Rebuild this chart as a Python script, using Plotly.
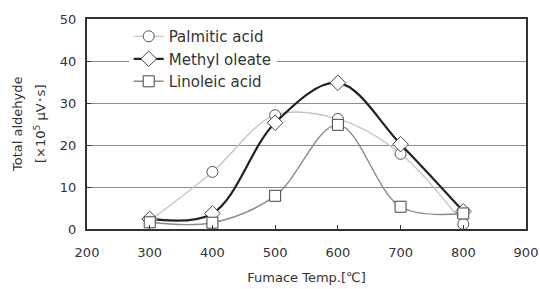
import plotly.graph_objects as go

temps = [300, 400, 500, 600, 700, 800]
palmitic = [2.0, 13.6, 27.1, 26.2, 17.9, 1.2]
methyl_oleate = [2.4, 3.7, 25.3, 34.8, 20.2, 4.2]
linoleic = [1.6, 1.5, 7.9, 24.8, 5.3, 3.7]
y_title_lines = ["Total aldehyde", "[×10<sup>5</sup> μV･s]"]

FONT = "DejaVu Sans"

fig = go.Figure()
fig.add_trace(go.Scatter(
    x=temps, y=palmitic, name="Palmitic acid", mode="lines+markers",
    line=dict(color="#c4c4c4", width=1.3, shape="spline", smoothing=1.0),
    marker=dict(symbol="circle", size=11, color="white", line=dict(color="#555555", width=1))))
fig.add_trace(go.Scatter(
    x=temps, y=methyl_oleate, name="Methyl oleate", mode="lines+markers",
    line=dict(color="#222222", width=2.2, shape="spline", smoothing=1.0),
    marker=dict(symbol="diamond", size=12, color="white", line=dict(color="#444444", width=1))))
fig.add_trace(go.Scatter(
    x=temps, y=linoleic, name="Linoleic acid", mode="lines+markers",
    line=dict(color="#8a8a8a", width=1.4, shape="spline", smoothing=1.0),
    marker=dict(symbol="square", size=11, color="white", line=dict(color="#444444", width=1))))

fig.update_layout(
    width=540, height=289,
    margin=dict(l=87, r=14, t=19, b=60),
    paper_bgcolor="white", plot_bgcolor="white",
    font=dict(family=FONT, color="#333333", size=13),
    showlegend=True,
    legend=dict(x=0.095, y=0.995, xanchor="left", yanchor="top",
                bgcolor="white", borderwidth=0,
                font=dict(family=FONT, size=15, color="#333333"),
                tracegroupgap=0),
    xaxis=dict(range=[200, 900], dtick=100, tick0=200, automargin=False,
               showline=True, linecolor="#333333", linewidth=2, mirror=True,
               showgrid=False, zeroline=False,
               ticks="inside", ticklen=4, tickcolor="#333333",
               ticklabelstandoff=10,
               tickfont=dict(size=13, family=FONT, color="#333333"),
               title=dict(text="Fumace Temp.[℃]", font=dict(size=13, family=FONT, color="#333333"), standoff=14)),
    yaxis=dict(range=[0, 50], dtick=10, automargin=False,
               showline=True, linecolor="#333333", linewidth=2, mirror=True,
               showgrid=True, gridcolor="#8c8c8c", gridwidth=1, zeroline=False,
               ticks="inside", ticklen=4, tickcolor="#333333",
               ticklabelstandoff=6,
               tickfont=dict(size=13, family=FONT, color="#333333")),
)

for i, (txt, shift) in enumerate(zip(y_title_lines, [-70, -47])):
    fig.add_annotation(text=txt, xref="paper", yref="paper", x=0, y=0.5,
                       xanchor="center", yanchor="middle", xshift=shift,
                       textangle=-90, showarrow=False,
                       font=dict(size=13, family=FONT, color="#333333"))

fig.write_html("out.html", post_script="document.body.style.margin='0';",
               config={"displayModeBar": False})
